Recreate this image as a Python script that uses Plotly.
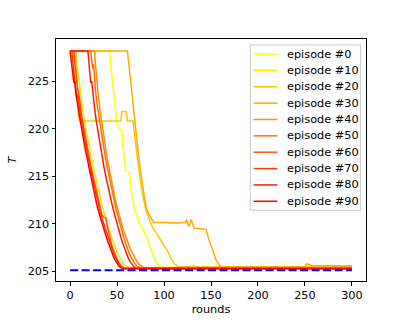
import plotly.graph_objects as go

# ---------------- data ----------------
episodes = ["episode #0", "episode #10", "episode #20", "episode #30", "episode #40",
            "episode #50", "episode #60", "episode #70", "episode #80", "episode #90"]

colors = ["rgb(255,255,0)", "rgb(255,227,0)", "rgb(255,198,0)", "rgb(255,170,0)",
          "rgb(255,142,0)", "rgb(255,113,0)", "rgb(255,85,0)", "rgb(255,57,0)",
          "rgb(255,28,0)", "rgb(255,0,0)"]

rounds_0 = [0, 42, 44, 46, 48, 50, 52, 55, 57, 59, 61, 63, 64, 66, 68, 71, 74, 78, 82, 85, 87, 90, 92, 95, 98, 205, 208, 211, 300]
T_0 = [228.15, 228.15, 226.0, 224.0, 222.0, 220.6, 220.1, 219.7, 217.6, 215.7, 215.5, 215.35, 214.5, 212.8, 211.8, 210.8, 210.0, 209.3, 208.5, 207.6, 207.1, 206.5, 205.9, 205.5, 205.45, 205.45, 205.55, 205.45, 205.45]

rounds_10 = [0, 6, 7, 8, 10, 12, 14, 16, 18, 20, 22, 24, 26, 28, 30, 32, 34, 36, 38, 40, 42, 44, 46, 48, 50, 52, 54, 56, 58, 60, 62, 64, 67, 300]
T_10 = [228.15, 228.15, 227.0, 226.2, 224.4, 222.8, 221.6, 220.4, 219.3, 218.3, 217.3, 216.3, 215.4, 214.5, 213.6, 212.8, 212.0, 211.3, 210.5, 209.8, 209.2, 208.6, 208.0, 207.5, 207.0, 206.6, 206.2, 205.9, 205.7, 205.55, 205.45, 205.4, 205.4, 205.4]

rounds_20 = [0, 6, 7, 8, 9, 10, 54, 55, 60, 61, 67, 69, 72, 75, 78, 81, 85, 88, 92, 96, 100, 104, 108, 111, 115, 130, 132, 134, 300]
T_20 = [228.15, 228.15, 226.0, 223.5, 221.5, 220.8, 220.8, 221.8, 221.8, 220.8, 220.8, 219.0, 216.5, 214.4, 212.7, 211.4, 210.3, 209.6, 209.0, 208.4, 207.8, 207.1, 206.3, 205.8, 205.5, 205.5, 205.6, 205.5, 205.5]

rounds_30 = [0, 61, 63, 65, 67, 70, 73, 76, 79, 81, 84, 87, 89, 100, 112, 123, 124, 126, 127, 129, 130, 132, 138, 145, 147, 150, 152, 155, 158, 161, 163, 250, 252, 255, 257, 300]
T_30 = [228.15, 228.15, 226.4, 224.5, 222.5, 219.6, 217.0, 214.8, 212.8, 211.7, 211.0, 210.4, 210.15, 210.15, 210.1, 210.15, 210.45, 209.8, 209.8, 210.45, 210.1, 209.5, 209.5, 209.4, 208.6, 207.6, 207.2, 206.3, 205.8, 205.5, 205.45, 205.45, 205.8, 205.7, 205.6, 205.6]

rounds_40 = [0, 26, 27, 28, 30, 32, 34, 36, 38, 40, 42, 44, 46, 48, 50, 52, 54, 56, 58, 60, 62, 64, 66, 68, 70, 72, 74, 76, 78, 80, 82, 85, 300]
T_40 = [228.15, 228.15, 226.8, 225.6, 223.5, 221.8, 220.3, 219.0, 217.8, 216.6, 215.5, 214.5, 213.5, 212.6, 211.8, 211.0, 210.3, 209.6, 209.0, 208.4, 207.9, 207.4, 207.0, 206.6, 206.2, 205.9, 205.7, 205.55, 205.45, 205.4, 205.4, 205.4, 205.4]

rounds_50 = [0, 22, 23, 24, 25, 26, 27, 29, 31, 33, 35, 37, 39, 41, 43, 45, 47, 49, 51, 53, 55, 57, 59, 61, 63, 65, 67, 69, 71, 73, 75, 77, 80, 300]
T_50 = [228.15, 228.15, 227.2, 226.3, 226.8, 225.0, 224.0, 222.4, 221.0, 219.7, 218.5, 217.3, 216.2, 215.2, 214.2, 213.2, 212.3, 211.5, 210.8, 210.0, 209.3, 208.6, 208.0, 207.4, 206.9, 206.5, 206.1, 205.8, 205.6, 205.45, 205.35, 205.3, 205.3, 205.3]

rounds_60 = [0, 4, 5, 6, 8, 9, 10, 12, 14, 16, 18, 20, 22, 24, 26, 28, 30, 32, 34, 36, 38, 40, 42, 44, 46, 48, 50, 52, 54, 56, 58, 60, 63, 300]
T_60 = [228.15, 228.15, 227.0, 225.9, 224.2, 223.9, 222.9, 221.6, 220.4, 219.2, 218.2, 217.2, 216.1, 215.2, 214.3, 213.4, 212.5, 211.7, 210.9, 210.7, 210.6, 209.6, 208.6, 207.9, 207.3, 206.7, 206.3, 205.9, 205.6, 205.45, 205.35, 205.3, 205.3, 205.3]

rounds_70 = [0, 2, 3, 4, 5, 6, 7, 8, 10, 12, 14, 16, 18, 20, 22, 24, 26, 28, 30, 32, 34, 36, 38, 40, 42, 44, 46, 48, 50, 52, 54, 56, 58, 61, 300]
T_70 = [228.15, 228.15, 227.0, 226.0, 225.3, 224.5, 223.3, 223.5, 222.0, 220.9, 219.7, 218.6, 217.7, 216.6, 215.6, 214.7, 213.8, 212.9, 212.1, 211.3, 210.6, 210.0, 209.3, 208.7, 208.0, 207.5, 207.0, 206.5, 206.1, 205.8, 205.5, 205.4, 205.3, 205.3, 205.3]

rounds_80 = [0, 19, 20, 21, 22, 23, 24, 26, 28, 30, 32, 34, 36, 38, 40, 42, 44, 46, 48, 50, 52, 54, 56, 58, 60, 62, 64, 66, 68, 70, 72, 75, 300]
T_80 = [228.15, 228.15, 227.0, 225.8, 224.8, 225.0, 223.8, 222.2, 220.7, 219.4, 218.2, 217.1, 216.0, 215.0, 214.0, 213.1, 212.3, 211.5, 210.7, 210.0, 209.3, 208.6, 208.0, 207.4, 206.9, 206.4, 206.0, 205.7, 205.5, 205.4, 205.3, 205.3, 205.3]

rounds_90 = [0, 1, 2, 3, 4, 5, 6, 8, 10, 12, 14, 16, 18, 20, 22, 24, 26, 28, 30, 32, 34, 36, 38, 40, 42, 44, 46, 48, 50, 52, 54, 57, 60, 300]
T_90 = [228.15, 227.2, 226.3, 225.4, 224.8, 224.9, 223.8, 222.5, 221.2, 220.1, 219.0, 217.9, 216.9, 215.8, 214.9, 213.9, 213.0, 212.2, 211.4, 210.7, 210.0, 209.4, 208.8, 208.2, 207.6, 207.1, 206.6, 206.2, 205.8, 205.55, 205.4, 205.3, 205.3, 205.3]

optimum_rounds = [0, 300]
optimum_T = [205.12, 205.12]

x_ticks = [0, 50, 100, 150, 200, 250, 300]
y_ticks = [205, 210, 215, 220, 225]

series_x = [rounds_0, rounds_10, rounds_20, rounds_30, rounds_40,
            rounds_50, rounds_60, rounds_70, rounds_80, rounds_90]
series_y = [T_0, T_10, T_20, T_30, T_40, T_50, T_60, T_70, T_80, T_90]

# ---------------- figure ----------------
W, H = 407, 326
L, R, TOP, BOT = 51, 366, 39, 285
FONT = "DejaVu Sans"
FS = 11.3

fig = go.Figure()
for name, c, xs, ys in zip(episodes, colors, series_x, series_y):
    fig.add_trace(go.Scatter(x=xs, y=ys, mode="lines", name=name,
                             line=dict(color=c, width=1.5), showlegend=False))
fig.add_trace(go.Scatter(x=optimum_rounds, y=optimum_T, mode="lines", name="optimum",
                         line=dict(color="rgb(0,0,255)", width=2, dash="8px,3.5px"),
                         showlegend=False))

def px2x(px):
    return (px - L) / (R - L)

def py2y(py):
    return (BOT - py) / (BOT - TOP)

# manual matplotlib-like legend
shapes = [dict(type="rect", xref="paper", yref="paper",
               x0=px2x(248.3), x1=px2x(360.5), y0=py2y(213), y1=py2y(45),
               line=dict(color="#cccccc", width=1), fillcolor="rgba(255,255,255,0.8)",
               layer="above")]
annotations = []
for i, (name, c) in enumerate(zip(episodes, colors)):
    yc = 54.3 + i * 16.63
    shapes.append(dict(type="line", xref="paper", yref="paper",
                       x0=px2x(251.7), x1=px2x(276), y0=py2y(yc), y1=py2y(yc),
                       line=dict(color=c, width=1.5), layer="above"))
    annotations.append(dict(text=name, xref="paper", yref="paper",
                            x=px2x(284), y=py2y(yc), xanchor="left", yanchor="middle",
                            showarrow=False, font=dict(family=FONT, size=FS, color="black")))

fig.update_layout(
    width=W, height=H, autosize=False,
    margin=dict(l=L, r=W - R, t=TOP, b=H - BOT, pad=0),
    paper_bgcolor="white", plot_bgcolor="white",
    font=dict(family=FONT, size=FS, color="black"),
    shapes=shapes, annotations=annotations,
)
fig.update_xaxes(range=[-15, 315], tickvals=x_ticks, ticks="outside", ticklen=3.5,
                 tickwidth=0.8, tickcolor="black", showline=True, mirror=True,
                 linecolor="black", linewidth=1, showgrid=False, zeroline=False,
                 tickfont=dict(family=FONT, size=FS, color="black"),
                 title=dict(text="rounds", font=dict(family=FONT, size=FS, color="black"),
                            standoff=4))
fig.update_yaxes(range=[204.0, 229.41], tickvals=y_ticks, ticks="outside", ticklen=3.5,
                 tickwidth=0.8, tickcolor="black", showline=True, mirror=True,
                 linecolor="black", linewidth=1, showgrid=False, zeroline=False,
                 tickfont=dict(family=FONT, size=FS, color="black"),
                 title=dict(text="<i>T</i>", font=dict(family=FONT, size=FS, color="black"),
                            standoff=8))

fig.write_html("out.html", config={"displayModeBar": False},
               post_script="document.body.style.margin='0';document.body.style.padding='0';")
